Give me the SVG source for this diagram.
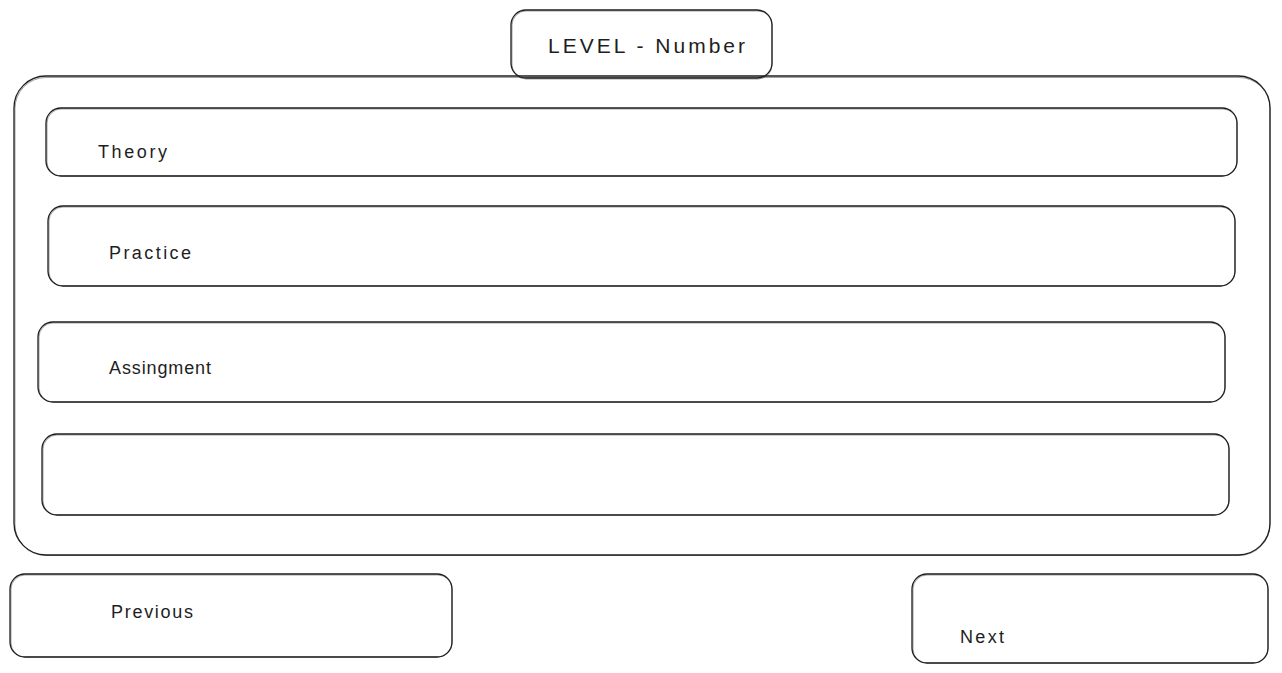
<svg xmlns="http://www.w3.org/2000/svg" width="1282" height="673" viewBox="0 0 1282 673">
<style>
.box{fill:none;stroke:#1e1e1e;stroke-width:1.3}
.sk{fill:none;stroke:#1e1e1e;stroke-width:0.6;opacity:0.7}
.lbl{font-family:"Liberation Sans",Arial,sans-serif;fill:#1e1e1e;font-size:18px}
</style>
<rect width="1282" height="673" fill="#ffffff"/>
<g id="container">
<rect class="box" x="14" y="76" width="1256" height="479" rx="32"/>
<rect class="sk" x="15" y="77.5" width="1255" height="478" rx="31"/>
</g>
<g id="level">
<rect class="box" x="511" y="10" width="261" height="68" rx="15"/>
<rect class="sk" x="512" y="11" width="260" height="68" rx="14"/>
<text class="lbl" x="548" y="53" style="font-size:21px" textLength="197" lengthAdjust="spacing">LEVEL - Number</text>
</g>
<g id="theory">
<rect class="box" x="46" y="108" width="1191" height="68" rx="15"/>
<rect class="sk" x="47" y="109" width="1190" height="67" rx="14"/>
<text class="lbl" x="98" y="158" textLength="69" lengthAdjust="spacing">Theory</text>
</g>
<g id="practice">
<rect class="box" x="48" y="206" width="1187" height="80" rx="15"/>
<rect class="sk" x="49" y="207" width="1186" height="79" rx="14"/>
<text class="lbl" x="109" y="259" textLength="82" lengthAdjust="spacing">Practice</text>
</g>
<g id="assignment">
<rect class="box" x="38" y="322" width="1187" height="80" rx="15"/>
<rect class="sk" x="39" y="323" width="1186" height="79" rx="14"/>
<text class="lbl" x="109" y="374" textLength="102" lengthAdjust="spacing">Assingment</text>
</g>
<g id="empty">
<rect class="box" x="42" y="434" width="1187" height="81" rx="15"/>
<rect class="sk" x="43" y="435" width="1186" height="80" rx="14"/>
</g>
<g id="previous">
<rect class="box" x="10" y="574" width="442" height="83" rx="15"/>
<rect class="sk" x="11" y="575" width="441" height="82" rx="14"/>
<text class="lbl" x="111" y="618" textLength="82" lengthAdjust="spacing">Previous</text>
</g>
<g id="next">
<rect class="box" x="912" y="574" width="356" height="89" rx="15"/>
<rect class="sk" x="913" y="575" width="355" height="88" rx="14"/>
<text class="lbl" x="960" y="643" textLength="44" lengthAdjust="spacing">Next</text>
</g>
<g id="connectors"></g>
</svg>
